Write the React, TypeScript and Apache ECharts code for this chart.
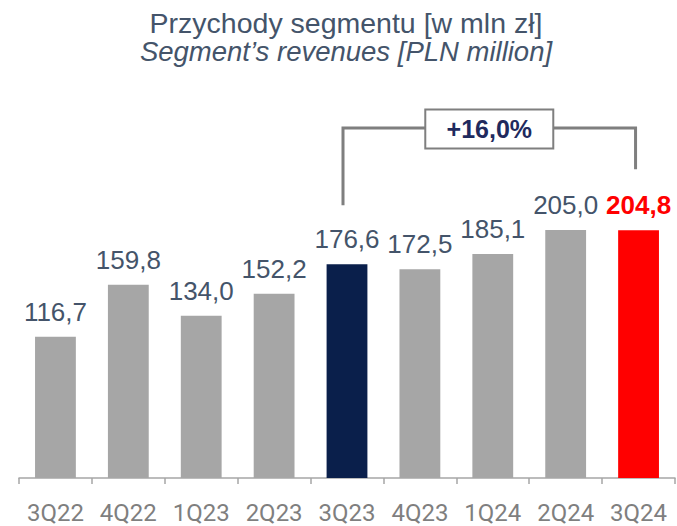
import React, { useEffect, useRef } from "react";
import * as echarts from "echarts";

const categories = ["3Q22", "4Q22", "1Q23", "2Q23", "3Q23", "4Q23", "1Q24", "2Q24", "3Q24"];
const values = [116.7, 159.8, 134.0, 152.2, 176.6, 172.5, 185.1, 205.0, 204.8];
const titleLine1 = "Przychody segmentu [w mln zł]";
const titleLine2 = "Segment’s revenues [PLN million]";
const changeLabel = "+16,0%";
const compareFrom = 4; // 3Q23
const compareTo = 8; // 3Q24

const fmt = (v: number) => v.toFixed(1).replace(".", ",");

export default function App() {
  const ref = useRef<HTMLDivElement>(null);
  useEffect(() => {
    if (!ref.current) return;
    const chart = echarts.init(ref.current, undefined, { renderer: "svg" });
    const labelColor = "#44546a";
    const data = values.map((v, i) => {
      let color = "#a6a6a6";
      if (i === compareFrom) color = "#0a1f4b";
      if (i === compareTo) color = "#ff0000";
      const item: any = { value: v, itemStyle: { color } };
      if (i === compareTo) {
        item.label = { color: "#ff0000", fontWeight: "bold" };
      }
      return item;
    });
    chart.setOption({
      animation: false,
      backgroundColor: "#ffffff",
      title: {
        text: titleLine1,
        subtext: titleLine2,
        left: 341,
        textAlign: "center",
        top: 4,
        itemGap: 0,
        textStyle: { fontFamily: "Liberation Sans, Arial", fontSize: 28.5, lineHeight: 27, fontWeight: "normal", color: labelColor },
        subtextStyle: { fontFamily: "Liberation Sans, Arial", fontSize: 27.5, lineHeight: 27, fontStyle: "italic", color: labelColor },
      },
      grid: { left: 19, right: 2, top: 115, bottom: 48 },
      xAxis: {
        type: "category",
        data: categories,
        axisLine: { lineStyle: { color: "#a6a6a6", width: 1.5 } },
        axisTick: { show: true, length: 6, lineStyle: { color: "#a6a6a6", width: 1.5 } },
        axisLabel: { color: "#7f7f7f", fontFamily: "Roboto", fontSize: 24, margin: 23, interval: 0 },
      },
      yAxis: { type: "value", min: 0, max: 300, show: false, splitLine: { show: false } },
      series: [
        {
          type: "bar",
          data,
          barWidth: "56%",
          label: {
            show: true,
            position: "top",
            distance: 12,
            fontFamily: "Liberation Sans, Arial",
            fontSize: 26,
            color: labelColor,
            formatter: (p: any) => fmt(p.value),
          },
        },
      ],
    });
    const pFrom = chart.convertToPixel({ seriesIndex: 0 }, [compareFrom, values[compareFrom]]) as number[];
    const pTo = chart.convertToPixel({ seriesIndex: 0 }, [compareTo, values[compareTo]]) as number[];
    const xl = pFrom[0] - 4;
    const xr = pTo[0] - 3;
    const yl = pFrom[1] - 59;
    const yr = pTo[1] - 61;
    const topY = 128;
    const mid = (xl + xr) / 2;
    const boxW = 128;
    const boxH = 39;
    const lineStyle = { stroke: "#7f7f7f", lineWidth: 3, fill: null };
    chart.setOption({
      graphic: [
        { type: "polyline", shape: { points: [[xl, yl], [xl, topY], [mid - boxW / 2, topY]] }, style: lineStyle },
        { type: "polyline", shape: { points: [[mid + boxW / 2, topY], [xr, topY], [xr, yr]] }, style: lineStyle },
        {
          type: "rect",
          shape: { x: mid - boxW / 2, y: topY - boxH / 2 + 1, width: boxW, height: boxH },
          style: { fill: "#ffffff", stroke: "#7f7f7f", lineWidth: 2 },
        },
        {
          type: "text",
          x: mid,
          y: topY + 1,
          style: {
            text: changeLabel,
            textAlign: "center",
            textVerticalAlign: "middle",
            fontFamily: "Liberation Sans, Arial",
            fontSize: 25,
            fontWeight: "bold",
            fill: "#1f2a5e",
          },
        },
      ],
    });
    return () => chart.dispose();
  }, []);
  return <div ref={ref} style={{ position: "fixed", left: 0, top: 0, width: 677, height: 526 }} />;
}
